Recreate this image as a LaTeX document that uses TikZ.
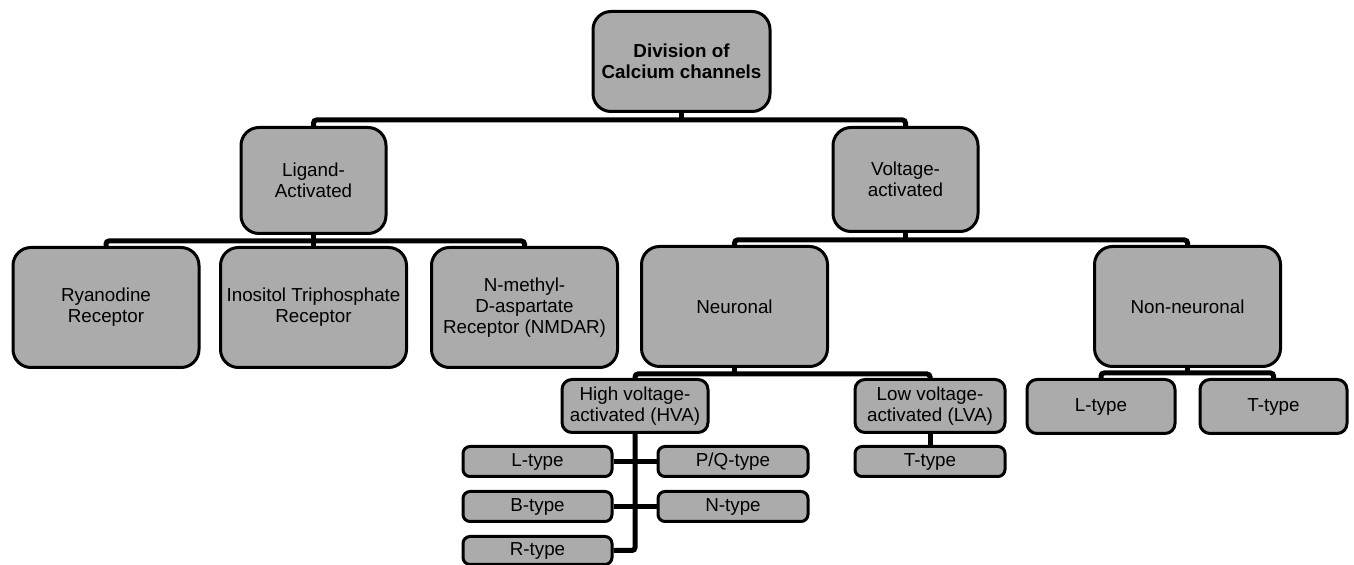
\documentclass[tikz,border=0pt]{standalone}
\usepackage{fontspec}
\setmainfont{Liberation Sans}
\usetikzlibrary{positioning}

\begin{document}
\begin{tikzpicture}
\begin{scope}

\useasboundingbox (0,0) rectangle (677pt,-282.5pt);

\tikzstyle{topnode} = [minimum width=88.5pt,minimum height=50pt,line width=1.5pt,draw,fill=black!33,rounded corners=9pt,align=center,font=\fontsize{9.4}{10.5}\selectfont\bfseries];
\tikzstyle{bignode} = [minimum width=93pt,minimum height=60pt,line width=1.5pt,draw,fill=black!33,rounded corners=9pt,align=center,inner sep=1pt,font=\fontsize{9.4}{10.5}\selectfont];
\tikzstyle{midnode} = [minimum width=74pt,minimum height=26.5pt,line width=1.5pt,draw,fill=black!33,rounded corners=5pt,align=center,inner sep=1pt,font=\fontsize{9.4}{10.5}\selectfont];
\tikzstyle{smallnode} = [minimum width=74.5pt,minimum height=15pt,line width=1.5pt,draw,fill=black!33,rounded corners=3.5pt,align=center,inner sep=1pt,font=\fontsize{9.4}{10.5}\selectfont];
\tikzstyle{bar} = [line width=2.5pt,rounded corners=1.5pt];

\node [topnode,anchor=north] (root) at (340.75pt,-5pt) {Division of\\Calcium channels};

\node [bignode,anchor=north,minimum width=72.5pt,minimum height=53pt] (lig) at ([xshift=-184pt,yshift=-6.5pt]root.south) {Ligand-\\Activated};
\node [bignode,anchor=north,minimum width=72.5pt,minimum height=52pt] (volt) at ([xshift=112pt,yshift=-6.5pt]root.south) {Voltage-\\activated};

\node [bignode,anchor=north] (ryan) at ([xshift=-103.75pt,yshift=-5.5pt]lig.south) {Ryanodine\\Receptor};
\node [bignode,anchor=north] (inos) at ([yshift=-5.5pt]lig.south) {Inositol Triphosphate\\Receptor};
\node [bignode,anchor=north] (nmda) at ([xshift=105.5pt,yshift=-5.5pt]lig.south) {N-methyl-\\D-aspartate\\Receptor (NMDAR)};
\node [bignode,anchor=north] (neur) at ([xshift=-85.5pt,yshift=-6pt]volt.south) {Neuronal};
\node [bignode,anchor=north] (nonn) at ([xshift=141pt,yshift=-6pt]volt.south) {Non-neuronal};

\node [midnode,anchor=north,minimum width=73pt] (hva) at ([xshift=-49.75pt,yshift=-5pt]neur.south) {High voltage-\\activated (HVA)};
\node [midnode,anchor=north,minimum width=75pt] (lva) at ([xshift=97.75pt,yshift=-5pt]neur.south) {Low voltage-\\activated (LVA)};
\node [midnode,anchor=north,minimum height=27pt] (nl) at ([xshift=-43.25pt,yshift=-5pt]nonn.south) {L-type};
\node [midnode,anchor=north,minimum width=73.5pt,minimum height=27pt] (nt) at ([xshift=43pt,yshift=-5pt]nonn.south) {T-type};

\node [smallnode,anchor=north,minimum width=75pt] (lvat) at ([yshift=-5.5pt]lva.south) {T-type};
\node [smallnode,anchor=north] (hl) at ([xshift=-48.75pt,yshift=-5.5pt]hva.south) {L-type};
\node [smallnode,anchor=north,minimum width=75pt] (pq) at ([xshift=49pt,yshift=-5.5pt]hva.south) {P/Q-type};
\node [smallnode,anchor=north] (hb) at ([yshift=-6pt]hl.south) {B-type};
\node [smallnode,anchor=north,minimum width=75pt] (hn) at ([yshift=-6pt]pq.south) {N-type};
\node [smallnode,anchor=north,minimum height=14pt] (hr) at ([yshift=-6pt]hb.south) {R-type};

\draw [bar] (root.south) -- ([yshift=-3.5pt]root.south);
\draw [bar] (lig.north) |- ([yshift=-3.5pt]root.south) -| (volt.north);
\draw [bar] (lig.south) -- (inos.north);
\draw [bar] (ryan.north) |- ([yshift=-3pt]lig.south) -| (nmda.north);
\draw [bar] (volt.south) -- ([yshift=-3.5pt]volt.south);
\draw [bar] (neur.north) |- ([yshift=-3.5pt]volt.south) -| (nonn.north);
\draw [bar] (neur.south) -- ([yshift=-3pt]neur.south);
\draw [bar] (hva.north) |- ([yshift=-3pt]neur.south) -| (lva.north);
\draw [bar] (nonn.south) -- ([yshift=-2.5pt]nonn.south);
\draw [bar] (nl.north) |- ([yshift=-2.5pt]nonn.south) -| (nt.north);
\draw [bar] (lva.south) -- (lvat.north);
\draw [bar] (hva.south) |- (hr.east);
\draw [bar] (hl.east) -- (pq.west);
\draw [bar] (hb.east) -- (hn.west);

\end{scope}
\end{tikzpicture}
\end{document}
